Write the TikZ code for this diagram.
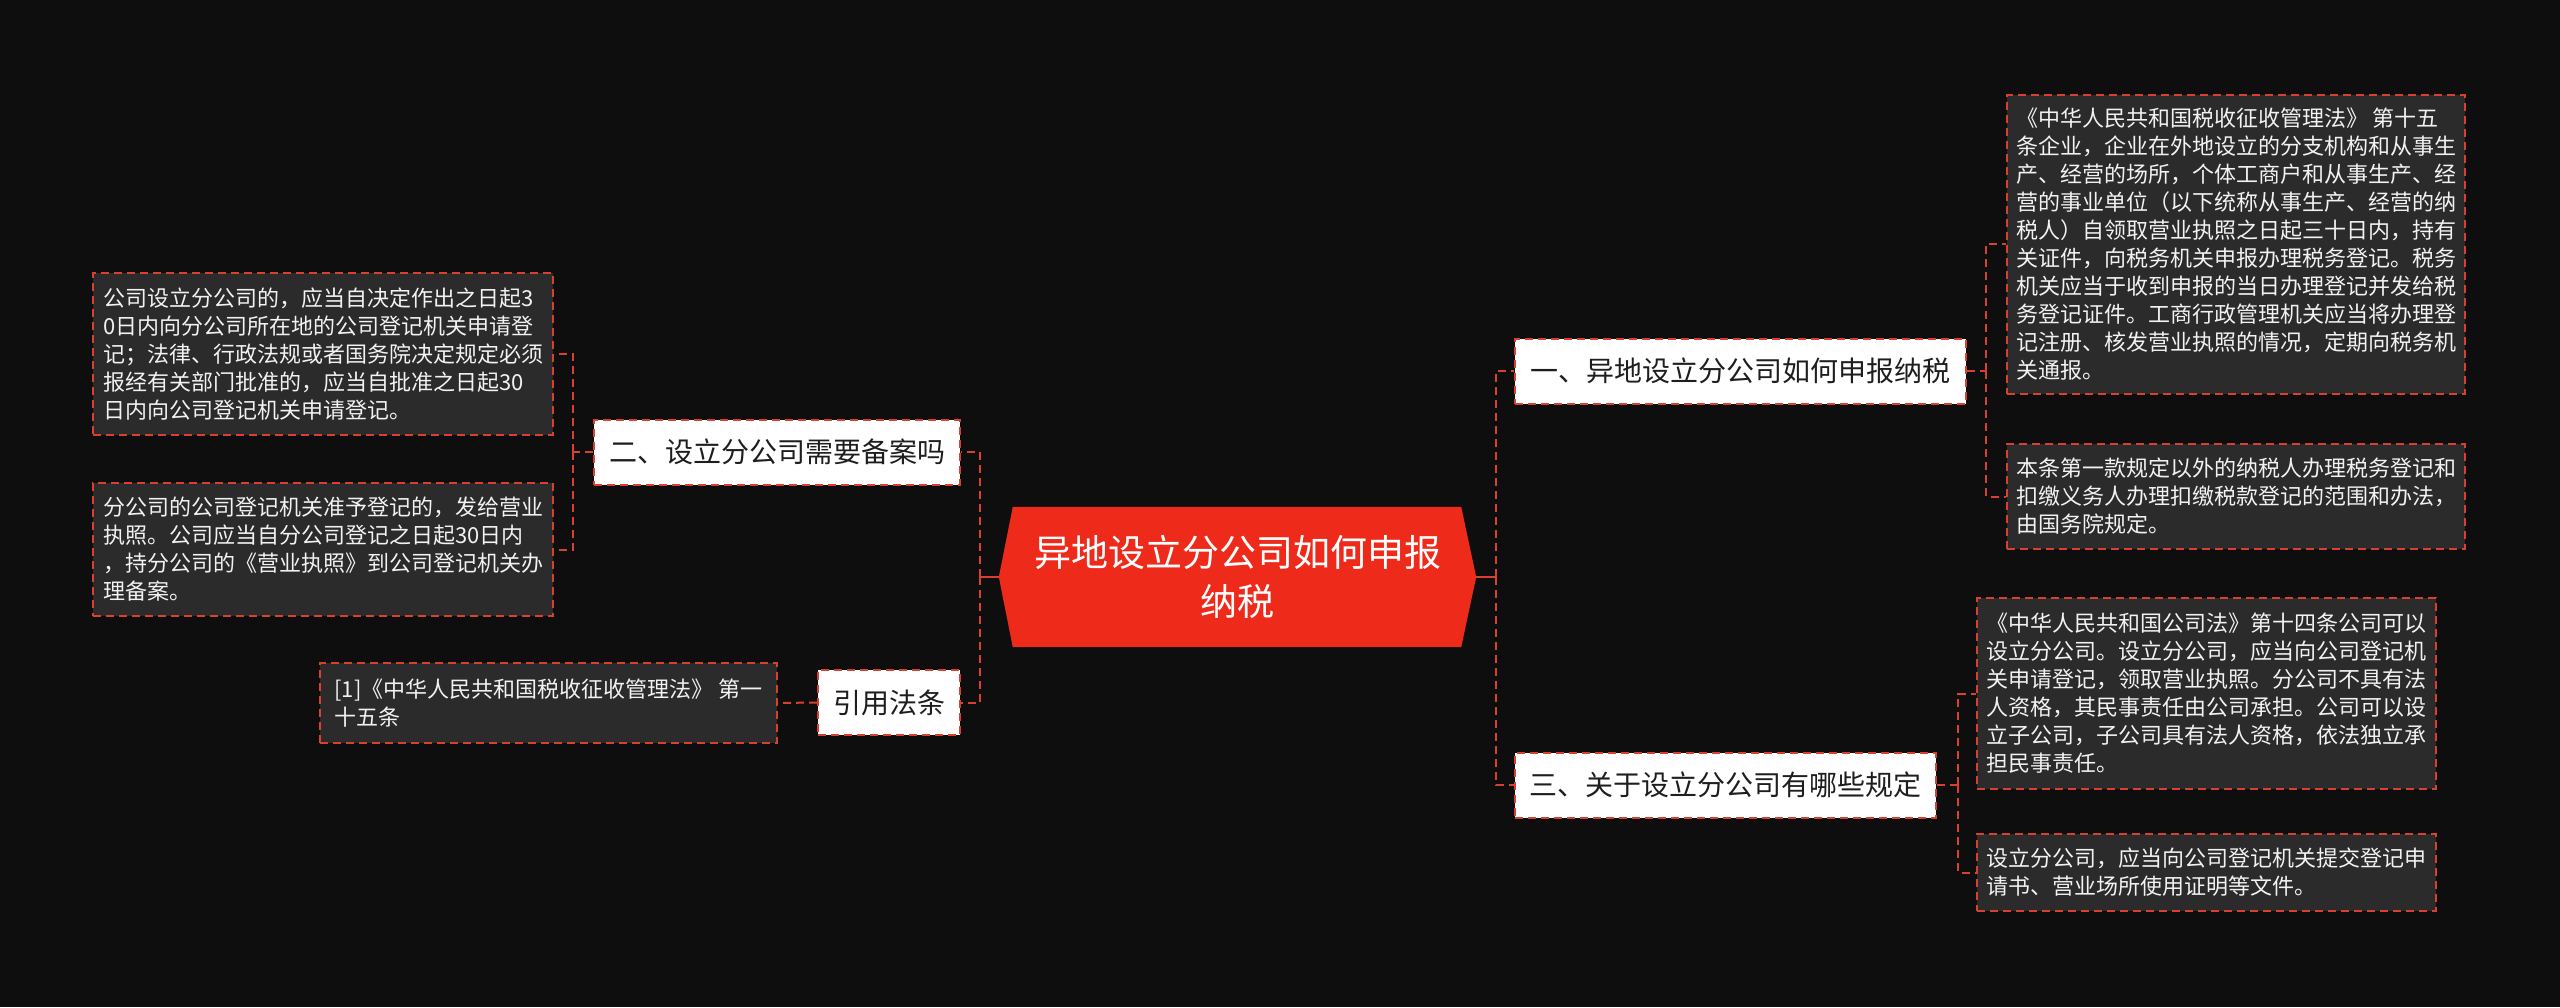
\documentclass[tikz,border=0pt]{standalone}
\usepackage{fontspec}
\setmainfont{Noto Sans CJK SC}
\usetikzlibrary{calc,backgrounds}
\definecolor{bgc}{HTML}{0E0E0E}
\definecolor{leafgray}{HTML}{2B2B2B}
\definecolor{linered}{HTML}{D8412F}
\definecolor{rootred}{HTML}{EE2A1B}
\definecolor{leaftext}{HTML}{F2F2F2}
\definecolor{branchtext}{HTML}{1E1E1E}
\begin{document}
\begin{tikzpicture}[x=1pt,y=-1pt,
  conn/.style={draw=linered, line width=2pt, dash pattern=on 8pt off 5pt},
  connsolid/.style={draw=linered, line width=2pt},
  leaf/.style={fill=leafgray, draw=linered, line width=2pt, dash pattern=on 8pt off 5pt,
    text=leaftext, align=left, font=\fontsize{22}{28}\selectfont, inner sep=0pt},
  branch/.style={fill=white, draw=linered, line width=2pt, dash pattern=on 8pt off 5pt,
    text=branchtext, font=\fontsize{28}{34}\selectfont, inner sep=0pt, minimum height=65pt},
  root/.style={inner sep=0pt, minimum width=477pt, minimum height=140pt, text=white,
    align=center, font=\fontsize{37}{49}\selectfont}
]
\useasboundingbox (0,0) rectangle (2560,1007);

% root
\node[root] (root) at (1237.5,577) {异地设立分公司如何申报\\纳税};
\begin{pgfonlayer}{background}
  \fill[bgc] (0,0) rectangle (2560,1007);
  \fill[rootred] (root.west) -- ($(root.north west)+(14,0)$) -- ($(root.north east)+(-15,0)$)
    -- (root.east) -- ($(root.south east)+(-15,0)$) -- ($(root.south west)+(14,0)$) -- cycle;
\end{pgfonlayer}

% branches
\node[branch, minimum width=366pt] (b2) at (777,452) {二、设立分公司需要备案吗};
\node[branch, minimum width=142pt] (bref) at (889,702.5) {引用法条};
\node[branch, minimum width=451pt] (b1) at (1740.5,371) {一、异地设立分公司如何申报纳税};
\node[branch, minimum width=421pt] (b3) at (1725.5,785) {三、关于设立分公司有哪些规定};

% left leaves
\node[leaf, minimum width=460pt, minimum height=162pt] (l1) at (323,354)
  {公司设立分公司的，应当自决定作出之日起3\\0日内向分公司所在地的公司登记机关申请登\\记；法律、行政法规或者国务院决定规定必须\\报经有关部门批准的，应当自批准之日起30\\日内向公司登记机关申请登记。};
\node[leaf, minimum width=460pt, minimum height=133pt] (l2) at (323,549.5)
  {分公司的公司登记机关准予登记的，发给营业\\执照。公司应当自分公司登记之日起30日内\\，持分公司的《营业执照》到公司登记机关办\\理备案。};
\node[leaf, minimum width=457pt, minimum height=80pt] (ref) at (548.5,703)
  {[1]《中华人民共和国税收征收管理法》 第一\\十五条};

% right leaves
\node[leaf, minimum width=458pt, minimum height=299pt] (r1) at (2236,244)
  {《中华人民共和国税收征收管理法》 第十五\\条企业，企业在外地设立的分支机构和从事生\\产、经营的场所，个体工商户和从事生产、经\\营的事业单位（以下统称从事生产、经营的纳\\税人）自领取营业执照之日起三十日内，持有\\关证件，向税务机关申报办理税务登记。税务\\机关应当于收到申报的当日办理登记并发给税\\务登记证件。工商行政管理机关应当将办理登\\记注册、核发营业执照的情况，定期向税务机\\关通报。};
\node[leaf, minimum width=458pt, minimum height=105pt] (r2) at (2236,496.5)
  {本条第一款规定以外的纳税人办理税务登记和\\扣缴义务人办理扣缴税款登记的范围和办法，\\由国务院规定。};
\node[leaf, minimum width=459pt, minimum height=191pt] (r3) at (2206.5,693.5)
  {《中华人民共和国公司法》第十四条公司可以\\设立分公司。设立分公司，应当向公司登记机\\关申请登记，领取营业执照。分公司不具有法\\人资格，其民事责任由公司承担。公司可以设\\立子公司，子公司具有法人资格，依法独立承\\担民事责任。};
\node[leaf, minimum width=459pt, minimum height=77pt] (r4) at (2206.5,872.5)
  {设立分公司，应当向公司登记机关提交登记申\\请书、营业场所使用证明等文件。};

% junctions
\coordinate (jl) at (980,577);
\coordinate (jr) at (1496,577);
\coordinate (jb2) at (573,452);
\coordinate (jb1) at (1986,371);
\coordinate (jb3) at (1958,785);

% connectors
\draw[connsolid] (root.west) -- (jl);
\draw[conn] (jl) |- (b2.east);
\draw[conn] (jl) |- (bref.east);
\draw[conn] (b2.west) -- (jb2);
\draw[conn] (jb2) |- (l1.east);
\draw[conn] (jb2) |- (l2.east);
\draw[conn] (bref.west) -- (ref.east);

\draw[connsolid] (root.east) -- (jr);
\draw[conn] (jr) |- (b1.west);
\draw[conn] (jr) |- (b3.west);
\draw[conn] (b1.east) -- (jb1);
\draw[conn] (jb1) |- (r1.west);
\draw[conn] (jb1) |- (r2.west);
\draw[conn] (b3.east) -- (jb3);
\draw[conn] (jb3) |- (r3.west);
\draw[conn] (jb3) |- (r4.west);
\end{tikzpicture}
\end{document}
